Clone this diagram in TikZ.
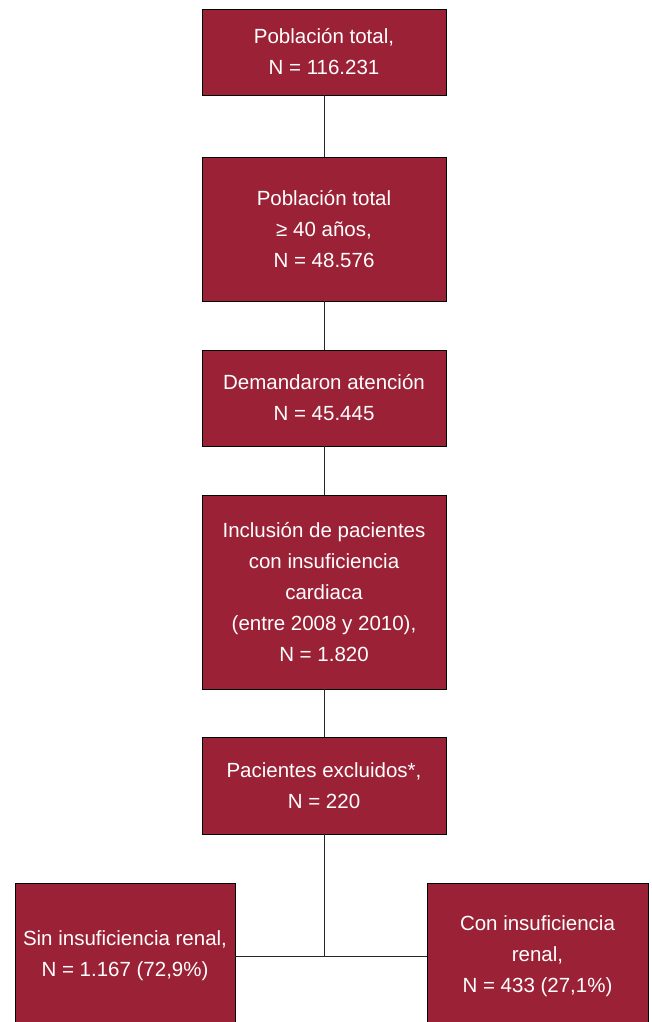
\documentclass[tikz,border=0pt]{standalone}
\usepackage{fontspec}
\setmainfont{Liberation Sans}
\usepackage{tikz}
\definecolor{granate}{RGB}{155,34,54}
\tikzstyle{caja} = [rectangle, minimum width=244pt, text centered, align=center, draw=black, line width=0.9pt, fill=granate, text=white, font=\fontsize{20.5}{31}\selectfont]
\tikzstyle{cajabaja} = [caja, minimum width=221pt, minimum height=146pt]
\tikzstyle{linea} = [line width=0.9pt, draw=black!85]

\begin{document}
\begin{tikzpicture}[node distance=180pt]
        \useasboundingbox (-324pt,52pt) rectangle (328pt,-970pt);

        \node (pobtotal) [caja, minimum height=86pt] {Población total,\\N = 116.231};
        \node (pob40) [caja, minimum height=144pt, below of=pobtotal, yshift=3pt] {Población total\\≥ 40 años,\\N = 48.576};
        \node (demanda) [caja, minimum height=96pt, below of=pob40, yshift=11pt] {Demandaron atención\\N = 45.445};
        \node (inclusion) [caja, minimum height=194pt, below of=demanda, yshift=-14pt] {Inclusión de pacientes\\con insuficiencia\\cardiaca\\(entre 2008 y 2010),\\N = 1.820};
        \node (excluidos) [caja, minimum height=97pt, below of=inclusion, yshift=-13.5pt] {Pacientes excluidos*,\\N = 220};
        \node (sinir) [cajabaja, minimum width=220pt, below of=excluidos, xshift=-199pt, yshift=9.5pt] {Sin insuficiencia renal,\\N = 1.167 (72,9\%)};
        \node (conir) [cajabaja, below of=excluidos, xshift=213.5pt, yshift=9.5pt] {Con insuficiencia\\renal,\\N = 433 (27,1\%)};

        \draw [linea] (pobtotal) -- (pob40);
        \draw [linea] (pob40) -- (demanda);
        \draw [linea] (demanda) -- (inclusion);
        \draw [linea] (inclusion) -- (excluidos);
        \draw [linea] (excluidos) -- (excluidos |- sinir.east);
        \draw [linea] (sinir) -- (conir);

      \end{tikzpicture}
\end{document}
